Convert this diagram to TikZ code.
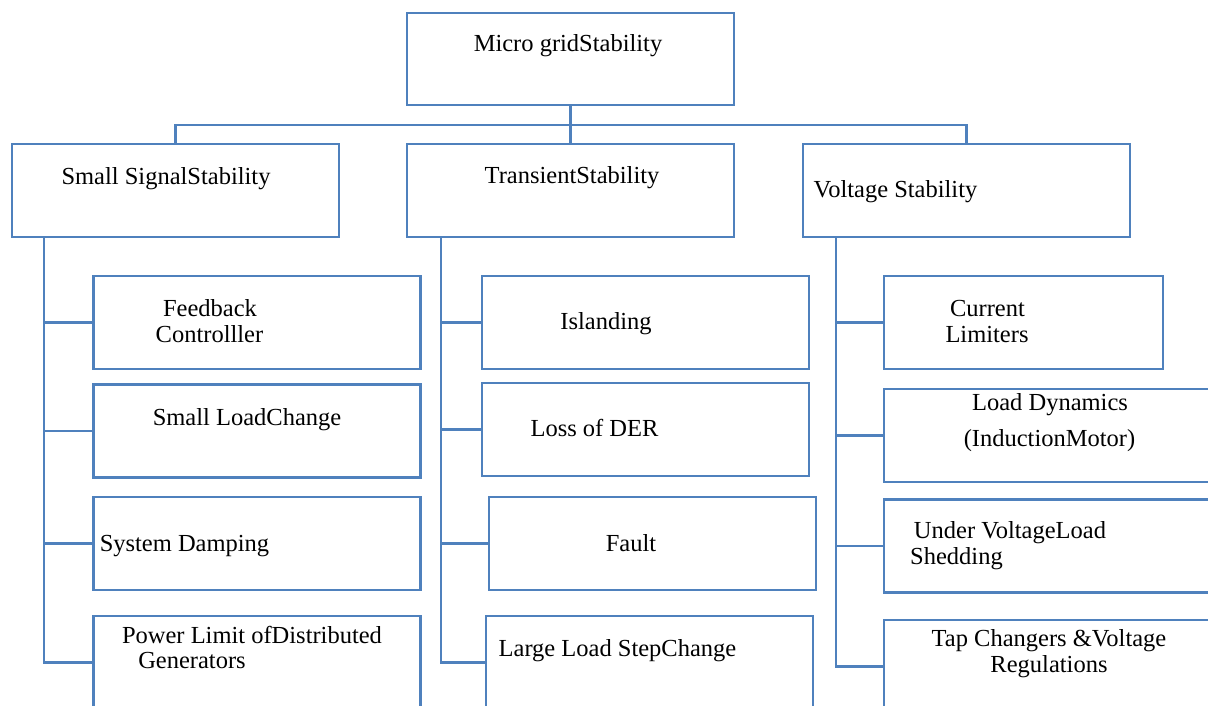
\documentclass[tikz,border=0pt]{standalone}
\usepackage{fontspec}
\setmainfont{Liberation Serif}
\usetikzlibrary{calc}
\definecolor{boxblue}{RGB}{79,129,189}
\tikzset{
  box/.style={draw=boxblue, line width=2.8pt, fill=white, rectangle,
    inner sep=0pt, outer sep=0pt, minimum width=#1},
  box/.default=327pt,
  wire/.style={draw=boxblue, line width=2.8pt},
  lbl/.style={anchor=base, inner sep=0pt, font=\fontsize{24.5pt}{26pt}\selectfont}
}
\begin{document}
\begin{tikzpicture}[x=1pt, y=-1pt]
\clip (0,0) rectangle (1208,706);
\fill[white] (0,0) rectangle (1208,706);

% top level
\node[box, minimum height=92pt] (root) at (570.5,59) {};

% second level
\node[box, minimum height=93pt] (ss) at (175.5,190.5) {};
\node[box, minimum height=93pt] (ts) at (570.5,190.5) {};
\node[box, minimum height=93pt] (vs) at (966.5,190.5) {};

% small signal column
\node[box, minimum height=93pt] (fb) at (257,322.5) {};
\node[box, minimum height=93pt] (sl) at (257,431) {};
\node[box, minimum height=93pt] (sd) at (257,543.5) {};
\node[box, minimum height=93pt] (pl) at (257,662.5) {};

% transient column
\node[box, minimum height=93pt] (is) at (645.5,322.5) {};
\node[box, minimum height=93pt] (ld) at (645.5,429.5) {};
\node[box, minimum height=93pt] (fa) at (652.5,543.5) {};
\node[box, minimum height=93pt] (ll) at (649.5,662.5) {};

% voltage column
\node[box=279pt, minimum height=93pt] (cl) at (1023.5,322.5) {};
\node[box, minimum height=93pt] (dy) at (1047.5,435.5) {};
\node[box, minimum height=93pt] (uv) at (1047.5,546) {};
\node[box, minimum height=93pt] (tc) at (1047.5,666.5) {};

% bus between the first two levels
\coordinate (bus) at ($(root.south)+(0,20)$);
\draw[wire] (root.south) -- (bus);
\draw[wire] (ss.north) |- (bus) -| (vs.north);
\draw[wire] (ts.north) -- (ts.north |- bus);

% trunks
\coordinate (t1) at ($(ss.south west)+(32,0)$);
\coordinate (t2) at ($(ts.south west)+(34,0)$);
\coordinate (t3) at ($(vs.south west)+(33,0)$);

\draw[wire] (t1) |- (pl.west);
\draw[wire] (fb.west) -- (fb.west -| t1);
\draw[wire] (sl.west) -- (sl.west -| t1);
\draw[wire] (sd.west) -- (sd.west -| t1);

\draw[wire] (t2) |- (ll.west);
\draw[wire] (is.west) -- (is.west -| t2);
\draw[wire] (ld.west) -- (ld.west -| t2);
\draw[wire] (fa.west) -- (fa.west -| t2);

\draw[wire] (t3) |- (tc.west);
\draw[wire] (cl.west) -- (cl.west -| t3);
\draw[wire] (dy.west) -- (dy.west -| t3);
\draw[wire] (uv.west) -- (uv.west -| t3);

% labels
\node[lbl] (troot) at (568,52) {Micro gridStability};
\node[lbl] (tss) at (166,185) {Small SignalStability};
\node[lbl] (tts) at (572,184) {TransientStability};
\node[lbl] (tvs) at (895.5,197) {Voltage Stability};

\node[lbl] (tfb1) at (210,316) {Feedback};
\node[lbl] (tfb2) at (209.5,342) {Controlller};
\node[lbl] (tsl) at (247,425) {Small LoadChange};
\node[lbl] (tsd) at (184.5,551) {System Damping};
\node[lbl] (tpl1) at (252,643) {Power Limit ofDistributed};
\node[lbl] (tpl2) at (192,668) {Generators};

\node[lbl] (tis) at (606,329) {Islanding};
\node[lbl] (tld) at (594.5,436) {Loss of DER};
\node[lbl] (tfa) at (631,551) {Fault};
\node[lbl] (tll) at (617.5,656) {Large Load StepChange};

\node[lbl] (tcl1) at (987.5,316) {Current};
\node[lbl] (tcl2) at (987,342) {Limiters};
\node[lbl] (tdy1) at (1050,410) {Load Dynamics};
\node[lbl] (tdy2) at (1049.5,446) {(InductionMotor)};
\node[lbl] (tuv1) at (1010,538) {Under VoltageLoad};
\node[lbl] (tuv2) at (956.5,564) {Shedding};
\node[lbl] (ttc1) at (1049,646) {Tap Changers \&Voltage};
\node[lbl] (ttc2) at (1049,672) {Regulations};
\end{tikzpicture}
\end{document}
